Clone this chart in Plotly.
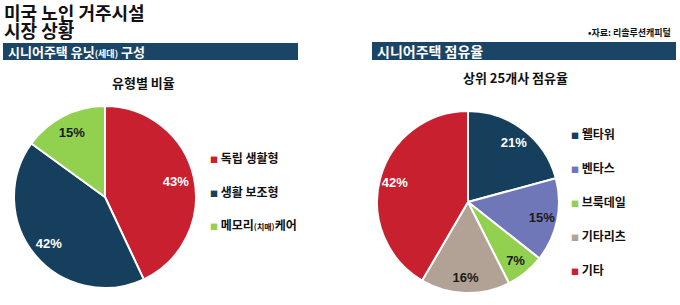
import plotly.graph_objects as go

# ---- data ----
left_labels = ["독립 생활형", "생활 보조형", "메모리(치매)케어"]
left_legend_text = ["독립 생활형", "생활 보조형", "메모리<span style='font-size:8px'>(치매)</span>케어"]
left_values = [43, 42, 15]
left_colors = ["#C8202F", "#163F5E", "#92D050"]
left_text_colors = ["white", "white", "#1a1a1a"]

right_labels = ["웰타워", "벤타스", "브룩데일", "기타리츠", "기타"]
right_values = [21, 15, 7, 16, 42]
right_colors = ["#163F5E", "#7077B8", "#92D050", "#B2A295", "#C8202F"]
right_text_colors = ["white", "#1a1a1a", "#1a1a1a", "#1a1a1a", "white"]

title_lines = ["미국 노인 거주시설", "시장 상황"]
left_header = "시니어주택 유닛<span style='font-size:9px'>(세대)</span> 구성"
right_header = "시니어주택 점유율"
left_sub = "유형별 비율"
right_sub = "상위 25개사 점유율"
source = "•자료: 리솔루션캐피털"

W, H = 680, 305
FONT = "Noto Sans CJK KR"
BAR = "#1B4566"

def px(x):
    return x / W

def py(y):
    return 1 - y / H

fig = go.Figure()

def add_pie(labels, values, colors, text_colors, dom, hole):
    # filled pie (no text)
    fig.add_trace(go.Pie(
        labels=labels, values=values, sort=False, direction="clockwise",
        marker=dict(colors=colors, line=dict(color="white", width=2)),
        textinfo="none", domain=dom, showlegend=False, hoverinfo="label+percent",
    ))
    # transparent ring carrying the value labels further out
    fig.add_trace(go.Pie(
        labels=labels, values=values, sort=False, direction="clockwise", hole=hole,
        marker=dict(colors=["rgba(0,0,0,0)"] * len(values), line=dict(width=0)),
        texttemplate="%{value}%", textinfo="text", textposition="inside",
        insidetextorientation="horizontal",
        insidetextfont=dict(family="Arial", size=13, color=text_colors, weight="bold"),
        domain=dom, showlegend=False, hoverinfo="skip",
    ))

add_pie(left_labels, left_values, left_colors, left_text_colors,
        dict(x=[px(14), px(196)], y=[py(288), py(106)]), 0.6)
add_pie(right_labels, right_values, right_colors, right_text_colors,
        dict(x=[px(377), px(559)], y=[py(293), py(111)]), 0.66)

shapes = [
    dict(type="rect", xref="paper", yref="paper", x0=px(3), x1=px(298), y0=py(60), y1=py(43),
         fillcolor=BAR, line=dict(width=0), layer="below"),
    dict(type="rect", xref="paper", yref="paper", x0=px(372), x1=px(676), y0=py(60), y1=py(42),
         fillcolor=BAR, line=dict(width=0), layer="below"),
]

ann = []
for line, yc in zip(title_lines, [12, 30]):
    ann.append(dict(text=line, x=px(2), y=py(yc), xanchor="left", yanchor="middle",
                    showarrow=False, align="left",
                    font=dict(family=FONT, size=18, color="#111", weight="bold")))
ann.append(dict(text=left_header, x=px(6), y=py(51.5), xanchor="left", yanchor="middle",
                showarrow=False, font=dict(family=FONT, size=13, color="white", weight="bold")))
ann.append(dict(text=right_header, x=px(375), y=py(51), xanchor="left", yanchor="middle",
                showarrow=False, font=dict(family=FONT, size=14, color="white", weight="bold")))
ann.append(dict(text=left_sub, x=px(143), y=py(82), xanchor="center", yanchor="middle",
                showarrow=False, font=dict(family=FONT, size=13, color="#111", weight="bold")))
ann.append(dict(text=right_sub, x=px(515), y=py(78), xanchor="center", yanchor="middle",
                showarrow=False, font=dict(family=FONT, size=13, color="#111", weight="bold")))
ann.append(dict(text=source, x=px(673), y=py(33), xanchor="right", yanchor="middle",
                showarrow=False, font=dict(family=FONT, size=9, color="#111", weight="bold")))

left_ys = [157, 191, 224]
for t, c, yy in zip(left_legend_text, left_colors, left_ys):
    ann.append(dict(text=f"<span style='color:{c};font-size:8px'>■</span> {t}", x=px(208), y=py(yy),
                    xanchor="left", yanchor="middle", showarrow=False,
                    font=dict(family=FONT, size=12, color="#111", weight="bold")))

right_ys = [133, 167, 201, 235, 269]
for t, c, yy in zip(right_labels, right_colors, right_ys):
    ann.append(dict(text=f"<span style='color:{c};font-size:8px'>■</span> {t}", x=px(569), y=py(yy),
                    xanchor="left", yanchor="middle", showarrow=False,
                    font=dict(family=FONT, size=12, color="#111", weight="bold")))

fig.update_layout(
    width=W, height=H, margin=dict(l=0, r=0, t=0, b=0),
    paper_bgcolor="white", plot_bgcolor="white",
    shapes=shapes, annotations=ann,
    font=dict(family=FONT),
)

fig.write_html("out.html")
